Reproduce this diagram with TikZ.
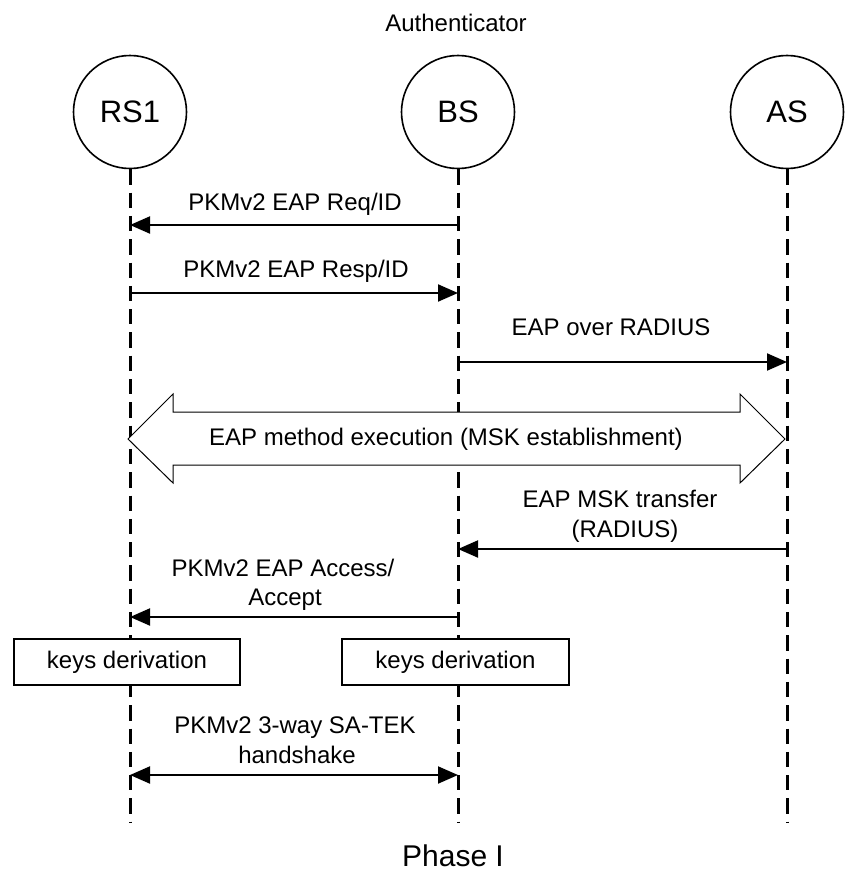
\documentclass[tikz,border=0pt]{standalone}
\usepackage{fontspec}
\setmainfont{Liberation Sans}
\usetikzlibrary{arrows.meta}
\begin{document}
\begin{tikzpicture}[x=1pt,y=-1pt,
  lbl/.style={inner sep=0pt, anchor=base, font=\fontsize{24}{28}\selectfont},
  actor/.style={circle, draw, fill=white, line width=1.6pt, minimum size=113pt, inner sep=0pt, font=\fontsize{31}{36}\selectfont},
  lifeline/.style={line width=3pt, dash pattern=on 15.3pt off 8pt},
  msg/.style={line width=2pt, -{Triangle[length=20pt,width=17pt]}},
  msgboth/.style={line width=2pt, {Triangle[length=20pt,width=17pt]}-{Triangle[length=20pt,width=17pt]}},
  kbox/.style={draw, fill=white, line width=1.5pt, minimum height=46pt, inner sep=0pt, font=\fontsize{24}{28}\selectfont},
  bigarrow/.style={draw, fill=white, line width=1pt, line join=miter},
]
\useasboundingbox (0,0) rectangle (851,878);
\fill[white] (0,0) rectangle (851,878);

% actors
\node[actor] (rs) at (130,112) {RS1};
\node[actor] (bs) at (458,112) {BS};
\node[actor] (as) at (787,112) {AS};
\node[lbl] (auth) at (456,31) {Authenticator};

% lifeline ends
\coordinate (rsEnd) at (130,822);
\coordinate (bsEnd) at (458,822);
\coordinate (asEnd) at (787,822);
\draw[lifeline] (rs.south) -- (rsEnd);
\draw[lifeline] (bs.south) -- (bsEnd);
\draw[lifeline] (as.south) -- (asEnd);

% message levels
\coordinate (y1) at (0,225);
\coordinate (y2) at (0,293);
\coordinate (y3) at (0,362);
\coordinate (y4) at (0,549);
\coordinate (y5) at (0,617);
\coordinate (y6) at (0,775);

% big double block arrow
\draw[bigarrow] (128,439) -- (173,394) -- (173,412) -- (740,412) -- (740,394)
  -- (785,439) -- (740,483) -- (740,465) -- (173,465) -- (173,483) -- cycle;
\node[lbl] (eapm) at (446,445.6) {EAP method execution (MSK establishment)};

% keys derivation boxes
\node[kbox, minimum width=226pt] (k1) at (127,662) {keys derivation};
\node[kbox, minimum width=227pt] (k2) at (455.5,662) {keys derivation};

% messages
\draw[msg] (bs |- y1) -- (rs |- y1);
\node[lbl] (l1) at (295,210.6) {PKMv2 EAP Req/ID};

\draw[msg] (rs |- y2) -- (bs |- y2);
\node[lbl] (l2) at (296,277.6) {PKMv2 EAP Resp/ID};

\draw[msg] (bs |- y3) -- (as |- y3);
\node[lbl] (l3) at (611,335.6) {EAP over RADIUS};

\draw[msg] (as |- y4) -- (bs |- y4);
\node[lbl] (l4a) at (620,507.6) {EAP MSK transfer};
\node[lbl] (l4b) at (625,537.6) {(RADIUS)};

\draw[msg] (bs |- y5) -- (rs |- y5);
\node[lbl] (l5a) at (283,576.6) {PKMv2 EAP Access/};
\node[lbl] (l5b) at (285,605.6) {Accept};

\draw[msgboth] (rs |- y6) -- (bs |- y6);
\node[lbl] (l6a) at (295,733.6) {PKMv2 3-way SA-TEK};
\node[lbl] (l6b) at (297,763.6) {handshake};

\node[lbl, font=\fontsize{30}{36}\selectfont] (phase) at (453,866) {Phase I};
\end{tikzpicture}
\end{document}
